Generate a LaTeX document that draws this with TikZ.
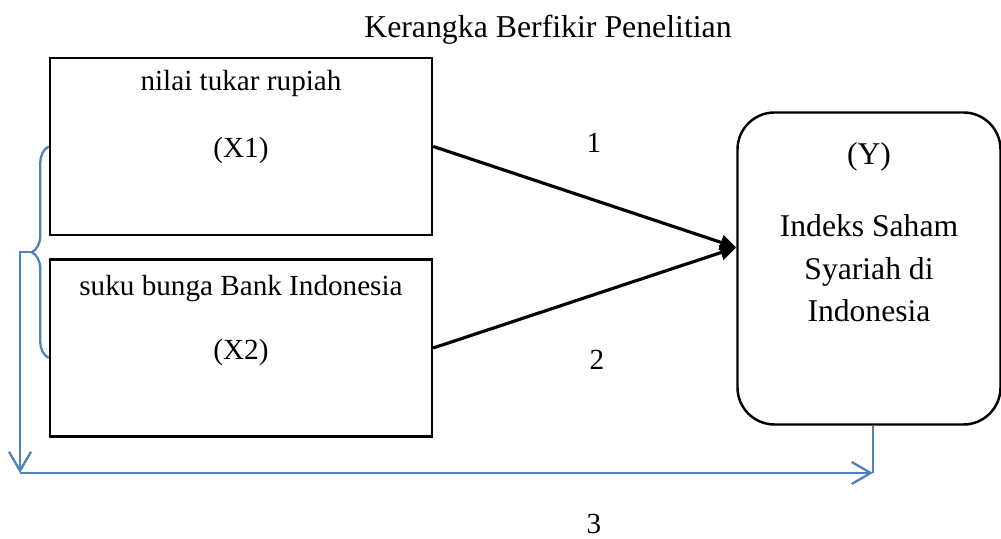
\documentclass[tikz,border=0pt]{standalone}
\usepackage{fontspec}
\setmainfont{Liberation Serif}
\usetikzlibrary{arrows.meta, calc, decorations.pathreplacing}
\definecolor{linkblue}{RGB}{79,129,189}
\tikzstyle{heading} = [font=\fontsize{18.1}{22}\selectfont]
\tikzstyle{boxtext} = [font=\fontsize{16.6}{20}\selectfont]
\tikzstyle{ytext} = [font=\fontsize{18}{24.2}\selectfont]
\tikzstyle{varbox} = [rectangle, minimum width=7.64cm, minimum height=3.54cm, draw=black, line width=1.4pt]
\tikzstyle{depbox} = [rectangle, rounded corners=0.74cm, minimum width=5.26cm, minimum height=6.24cm, text centered, align=center, draw=black, line width=1.4pt, font=\fontsize{18}{24.2}\selectfont]
\tikzstyle{arrow} = [line width=1.8pt, -{Triangle[length=0.32cm,width=0.3cm]}]
\tikzstyle{blueline} = [line width=1.3pt, draw=linkblue]
\tikzstyle{bluearrow} = [blueline, -{Straight Barb[length=0.38cm,width=0.44cm]}]
\tikzstyle{brace} = [blueline, decorate, decoration={brace, amplitude=0.34cm}]

\begin{document}
\begin{tikzpicture}[node distance=4.03cm]
\useasboundingbox (0,0) rectangle (20.02,-10.78);
\node (title) [heading] at (10.96,-0.6) {Kerangka Berfikir Penelitian};
\node (x1) [varbox] at (4.82,-2.93) {};
\node (x2) [varbox, below of=x1] {};
\node (y) [depbox] at (17.38,-5.37) {Indeks Saham\\Syariah di\\Indonesia};
\node (x1name) [boxtext] at ([yshift=-0.54cm]x1.north) {nilai tukar rupiah};
\node (x1code) [boxtext] at ([yshift=-1.88cm]x1.north) {(X1)};
\node (x2name) [boxtext] at ([yshift=-0.6cm]x2.north) {suku bunga Bank Indonesia};
\node (x2code) [boxtext] at ([yshift=-1.89cm]x2.north) {(X2)};
\node (ycode) [ytext] at ([yshift=-0.92cm]y.north) {(Y)};
\node (one) [boxtext] at (11.88,-2.86) {1};
\node (two) [boxtext] at (11.94,-7.2) {2};
\node (three) [boxtext, inner sep=0pt] at (11.88,-10.48) {3};

\coordinate (yin) at ([yshift=0.42cm]y.west);
\coordinate (x2b) at ([yshift=-0.2cm]x2.west);
\coordinate (tip) at ($(x1.west)!0.5!(x2b)+(-0.34,0)$);
\coordinate (corner) at (0.4,-9.46);
\coordinate (end) at ([xshift=0.08cm]y.south |- corner);

\draw [arrow] (x1.east) -- (yin);
\draw [arrow] (x2.east) -- (yin);
\draw [brace] (x2b) -- (x1.west);
\draw [bluearrow] (tip) -- (tip -| corner) -- (corner);
\draw [bluearrow] (corner) -- (end);
\draw [blueline] ([xshift=0.08cm]y.south) -- (end);
\end{tikzpicture}
\end{document}
